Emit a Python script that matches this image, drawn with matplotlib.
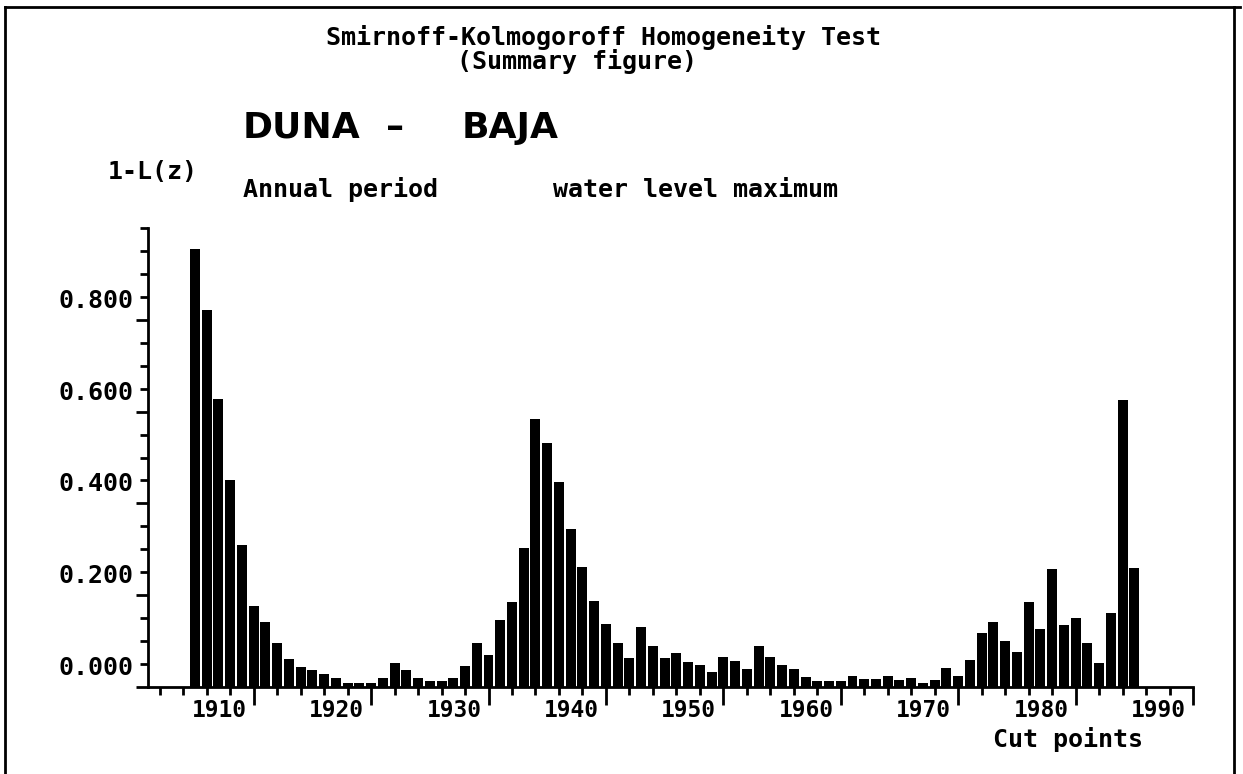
import matplotlib
matplotlib.use('Agg')
import matplotlib.pyplot as plt
import matplotlib.transforms as mtransforms
from matplotlib.lines import Line2D

# cut point years and the 1-L(z) value of each
years = list(range(1905, 1986))
values = [
    0.954, 0.821, 0.627, 0.452, 0.309, 0.176, 0.142, 0.095, 0.060, 0.044,  # 1905-1914
    0.036, 0.028, 0.019, 0.009, 0.009, 0.009, 0.019, 0.053, 0.037, 0.020,  # 1915-1924
    0.012, 0.012, 0.019, 0.046, 0.095, 0.070, 0.146, 0.186, 0.303, 0.583,  # 1925-1934
    0.532, 0.447, 0.344, 0.262, 0.187, 0.137, 0.096, 0.064, 0.130, 0.090,  # 1935-1944
    0.064, 0.073, 0.055, 0.048, 0.032, 0.065, 0.056, 0.040, 0.089, 0.065,  # 1945-1954
    0.049, 0.040, 0.022, 0.013, 0.013, 0.013, 0.025, 0.017, 0.017, 0.025,  # 1955-1964
    0.016, 0.020, 0.009, 0.015, 0.041, 0.025, 0.059, 0.117, 0.142, 0.101,  # 1965-1974
    0.076, 0.185, 0.126, 0.257, 0.135, 0.151, 0.095, 0.053, 0.161, 0.625,  # 1975-1984
    0.259,                                                                 # 1985
]

y_ticks = [0.0, 0.2, 0.4, 0.6, 0.8]
y_labels = ['0.000', '0.200', '0.400', '0.600', '0.800']
x_ticks = [1910, 1920, 1930, 1940, 1950, 1960, 1970, 1980, 1990]
x_labels = ['1910', '1920', '1930', '1940', '1950', '1960', '1970', '1980', '1990']

W, H = 1243, 774
font = {'family': 'DejaVu Sans Mono', 'weight': 'bold'}

fig = plt.figure(figsize=(W / 100, H / 100), dpi=100)
fig.patch.set_facecolor('white')

left, right, bottom, top = 148, 1193, 687, 228
ax = fig.add_axes([left / W, 1 - bottom / H, (right - left) / W, (bottom - top) / H])
ax.bar(years, values, width=0.85, color='black')

ax.set_xlim(1901, 1990)
ax.set_ylim(0, 1.0)
for s in ['top', 'right']:
    ax.spines[s].set_visible(False)
for s in ['left', 'bottom']:
    ax.spines[s].set_linewidth(2)

ax.set_xticks(x_ticks, x_labels)
ax.set_xticks(range(1902, 1990, 2), minor=True)
ax.set_yticks(y_ticks, y_labels)
ax.set_yticks([i * 0.05 for i in range(21)], minor=True)

ax.tick_params(axis='x', which='major', length=13, width=2, pad=0, labelsize=16.5)
ax.tick_params(axis='x', which='minor', length=6, width=2)
ax.tick_params(axis='y', which='major', length=9, width=2, pad=1.5, labelsize=18)
ax.tick_params(axis='y', which='minor', length=6, width=2)

# labels sit above their y ticks and left of the decade ticks
dy = mtransforms.ScaledTranslation(0, 0.07, fig.dpi_scale_trans)
for lab in ax.get_yticklabels():
    lab.set_verticalalignment('bottom')
    lab.set_fontfamily(font['family'])
    lab.set_fontweight('bold')
    lab.set_transform(lab.get_transform() + dy)
dx = mtransforms.ScaledTranslation(-0.07, 0.06, fig.dpi_scale_trans)
for lab in ax.get_xticklabels():
    lab.set_horizontalalignment('right')
    lab.set_fontfamily(font['family'])
    lab.set_fontweight('bold')
    lab.set_transform(lab.get_transform() + dx)

# headings
fig.text(603 / W, 1 - 38 / H, 'Smirnoff-Kolmogoroff Homogeneity Test', ha='center', va='center',
         fontsize=18, **font)
fig.text(577 / W, 1 - 62 / H, '(Summary figure)', ha='center', va='center', fontsize=18, **font)
fig.text(243 / W, 1 - 128 / H, 'DUNA', ha='left', va='center', fontsize=26,
         family='DejaVu Sans', weight='bold')
fig.text(395 / W, 1 - 128 / H, '–', ha='center', va='center', fontsize=26,
         family='DejaVu Sans', weight='bold')
fig.text(462 / W, 1 - 128 / H, 'BAJA', ha='left', va='center', fontsize=26,
         family='DejaVu Sans', weight='bold')
fig.text(108 / W, 1 - 172 / H, '1-L(z)', ha='left', va='center', fontsize=18, **font)
fig.text(243 / W, 1 - 190 / H, 'Annual period', ha='left', va='center', fontsize=18, **font)
fig.text(553 / W, 1 - 190 / H, 'water level maximum', ha='left', va='center', fontsize=18, **font)
fig.text(993 / W, 1 - 740 / H, 'Cut points', ha='left', va='center', fontsize=18, **font)

# frame round the page
fig.add_artist(Line2D([5 / W, 1 - 3 / W], [1 - 7 / H, 1 - 7 / H], transform=fig.transFigure,
                      color='black', lw=2))
fig.add_artist(Line2D([5 / W, 5 / W], [0, 1 - 7 / H], transform=fig.transFigure,
                      color='black', lw=2))
fig.add_artist(Line2D([1234 / W, 1234 / W], [0, 1 - 7 / H], transform=fig.transFigure,
                      color='black', lw=2))

fig.savefig('out.png', dpi=100)
